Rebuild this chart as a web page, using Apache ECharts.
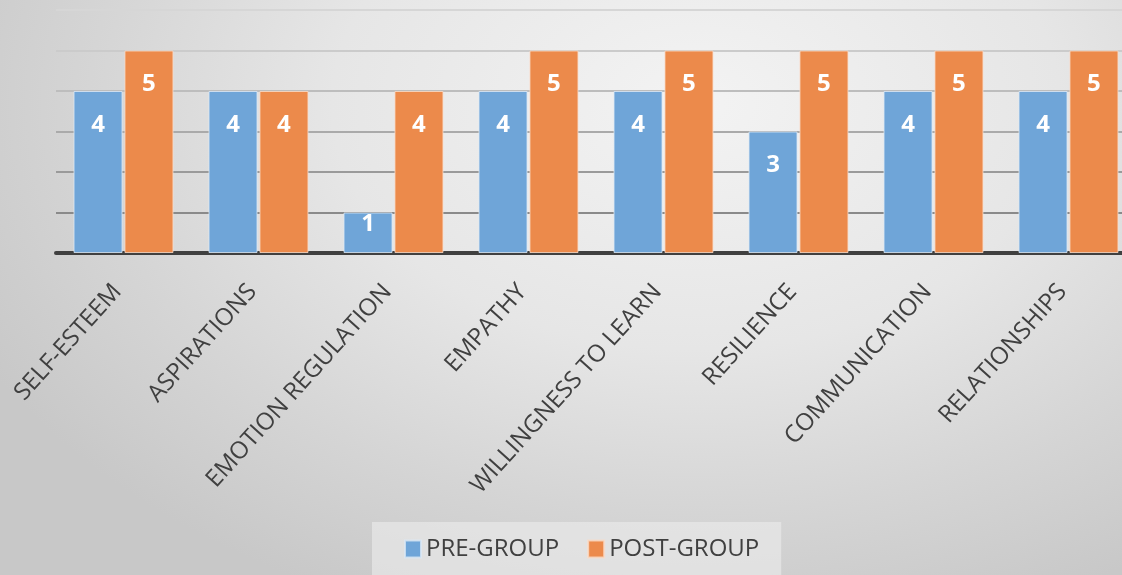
<!DOCTYPE html>
<html>
<head>
<meta charset="utf-8">
<script src="https://cdn.jsdelivr.net/npm/echarts@6/dist/echarts.min.js"></script>
<style>
html,body{margin:0;padding:0;overflow:hidden;width:1122px;height:575px;}
body{background:radial-gradient(ellipse 72% 95% at 62% 18%, #f3f3f3 0%, #e6e6e6 45%, #d5d5d5 75%, #c8c8c8 100%);}
#chart{width:1140px;height:575px;}
</style>
</head>
<body>
<div id="chart"></div>
<script>
const categories = ['SELF-ESTEEM','ASPIRATIONS','EMOTION REGULATION','EMPATHY','WILLINGNESS TO LEARN','RESILIENCE','COMMUNICATION','RELATIONSHIPS'];
const preGroup = [4,4,1,4,4,3,4,4];
const postGroup = [5,4,4,5,5,5,5,5];
const seriesNames = ['PRE-GROUP','POST-GROUP'];

const FONT = '"Open Sans", "Noto Sans", sans-serif';

function withLabels(arr){
  return arr.map(v => v <= 1 ? {value:v, label:{distance:0}} : v);
}

const chart = echarts.init(document.getElementById('chart'), null, {renderer:'canvas'});
const labelStyle = {
  show:true, position:'insideTop', distance:22,
  color:'#ffffff', fontSize:24, fontWeight:'bold', fontFamily:FONT
};
chart.setOption({
  backgroundColor:'transparent',
  animation:false,
  grid:{left:56, top:10, width:1080, height:243, containLabel:false},
  legend:{
    data:seriesNames,
    left:372, top:522,
    padding:[15,22,22,32],
    backgroundColor:'rgba(236,236,236,0.6)',
    itemWidth:16, itemHeight:17, itemGap:28,
    icon:'rect',
    textStyle:{fontSize:24, color:'#404040', fontFamily:FONT, padding:[0,0,0,0]}
  },
  xAxis:{
    type:'category',
    data:categories,
    axisLine:{show:true, lineStyle:{color:'#404040', width:4}},
    axisTick:{show:false},
    axisLabel:{interval:0, rotate:48, margin:28, padding:[0,9,0,0], fontSize:24, color:'#404040', fontFamily:FONT}
  },
  yAxis:{
    type:'value', min:0, max:6, interval:1,
    axisLabel:{show:false},
    axisLine:{show:false},
    axisTick:{show:false},
    splitLine:{show:true, lineStyle:{width:2, color:['#404040','#8a8a8a','#9a9a9a','#aaaaaa','#bdbdbd','#cbcbcb','#d6d6d6']}}
  },
  series:[
    {name:seriesNames[0], type:'bar', data:withLabels(preGroup), barWidth:49, barGap:'4%',
     itemStyle:{color:'#6fa5d8', borderColor:'rgba(220,232,245,0.8)', borderWidth:1},
     label:labelStyle},
    {name:seriesNames[1], type:'bar', data:withLabels(postGroup), barWidth:49,
     itemStyle:{color:'#ec8a4b', borderColor:'rgba(250,220,200,0.8)', borderWidth:1},
     label:labelStyle}
  ]
});
</script>
</body>
</html>
